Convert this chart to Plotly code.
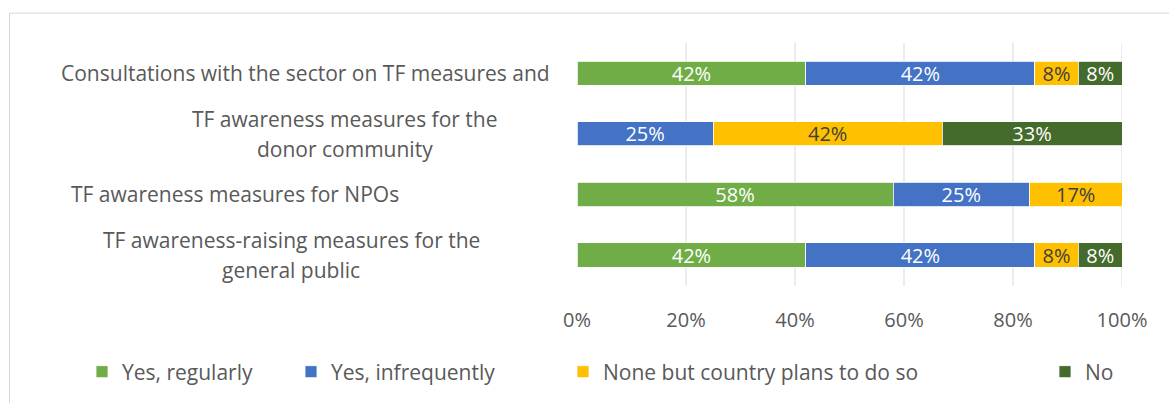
import plotly.graph_objects as go

# Survey results: share of responses per measure
categories = [
    "Consultations with the sector on TF measures and",
    "TF awareness measures for the<br>donor community",
    "TF awareness measures for NPOs",
    "TF awareness-raising measures for the<br>general public",
]
series_names = ["Yes, regularly", "Yes, infrequently", "None but country plans to do so", "No"]
yes_regularly = [42, 0, 58, 42]
yes_infrequently = [42, 25, 25, 42]
none_but_plans = [8, 42, 17, 8]
no_response = [8, 33, 0, 8]
tick_values = [0, 20, 40, 60, 80, 100]
tick_labels = ["0%", "20%", "40%", "60%", "80%", "100%"]

series_values = [yes_regularly, yes_infrequently, none_but_plans, no_response]
colors = ["#70AD47", "#4472C4", "#FFC000", "#446A2C"]
text_colors = ["white", "white", "#404040", "white"]

W, H = 1169, 403
L, R, T, B = 577, 47, 43, 116  # plot area margins (px)
PW, PH = W - L - R, H - T - B

def px_x(p):
    return (p - L) / PW

def px_y(p):
    return (H - B - p) / PH

FONT = "Open Sans"
FS = 21
GRAY = "#595959"

fig = go.Figure()
legend_keys = ["legend", "legend2", "legend3", "legend4"]
for name, vals, col, tcol, lk in zip(series_names, series_values, colors, text_colors, legend_keys):
    fig.add_trace(go.Bar(
        y=categories,
        x=vals,
        name=name,
        orientation="h",
        marker=dict(color=col, line=dict(color="white", width=0.8)),
        text=[f"{v}%" if v > 0 else "" for v in vals],
        textposition="inside",
        insidetextanchor="middle",
        textangle=0,
        constraintext="none",
        textfont=dict(family=FONT, size=20, color=tcol),
        legend=lk,
        showlegend=True,
        hoverinfo="skip",
    ))

# legend boxes, one per series, placed along the bottom row
legend_left_px = [82, 291, 563, 1045]
legend_cfg = {}
for lk, lx in zip(legend_keys, legend_left_px):
    legend_cfg[lk] = dict(
        x=px_x(lx), y=px_y(372), xanchor="left", yanchor="middle",
        orientation="h", font=dict(family=FONT, size=FS, color=GRAY),
        bgcolor="rgba(0,0,0,0)", itemwidth=30, traceorder="normal",
        visible=True,
    )

# category labels drawn as centred text blocks left of the bars
label_centers_px = [305, 345, 235, 291]
line_gap = 30
annotations = []
for cat, cx in zip(categories, label_centers_px):
    lines = cat.split("<br>")
    n = len(lines)
    for i, line in enumerate(lines):
        off = (i - (n - 1) / 2) * line_gap
        annotations.append(dict(
            x=px_x(cx), xref="paper", y=cat, yref="y",
            text=line, showarrow=False, xanchor="center", yanchor="middle",
            yshift=-off, font=dict(family=FONT, size=FS, color=GRAY),
        ))

shapes = []
for tv in tick_values[1:]:
    shapes.append(dict(type="line", xref="x", yref="paper", x0=tv, x1=tv, y0=0, y1=1,
                       line=dict(color="#D9D9D9", width=1), layer="below"))
# chart frame
shapes.append(dict(type="line", xref="paper", yref="paper",
                   x0=px_x(9.5), x1=px_x(9.5), y0=px_y(13), y1=px_y(H + 10),
                   line=dict(color="#D9D9D9", width=1)))
shapes.append(dict(type="line", xref="paper", yref="paper",
                   x0=px_x(9.5), x1=px_x(W + 10), y0=px_y(13), y1=px_y(13),
                   line=dict(color="#D9D9D9", width=1)))

fig.update_layout(
    width=W, height=H,
    margin=dict(l=L, r=R, t=T, b=B, pad=0),
    barmode="stack",
    bargap=0.6,
    showlegend=True,
    plot_bgcolor="white",
    paper_bgcolor="white",
    font=dict(family=FONT, size=FS, color=GRAY),
    xaxis=dict(range=[0, 100], tickvals=tick_values, ticktext=tick_labels,
               showgrid=False, zeroline=False, showline=False,
               tickfont=dict(family=FONT, size=20, color=GRAY),
               ticklabelstandoff=20, fixedrange=True),
    yaxis=dict(autorange="reversed", showticklabels=False, showgrid=False,
               zeroline=False, showline=False, fixedrange=True),
    annotations=annotations,
    shapes=shapes,
    uniformtext=dict(mode=False),
    **legend_cfg,
)

fig.write_html("out.html")
